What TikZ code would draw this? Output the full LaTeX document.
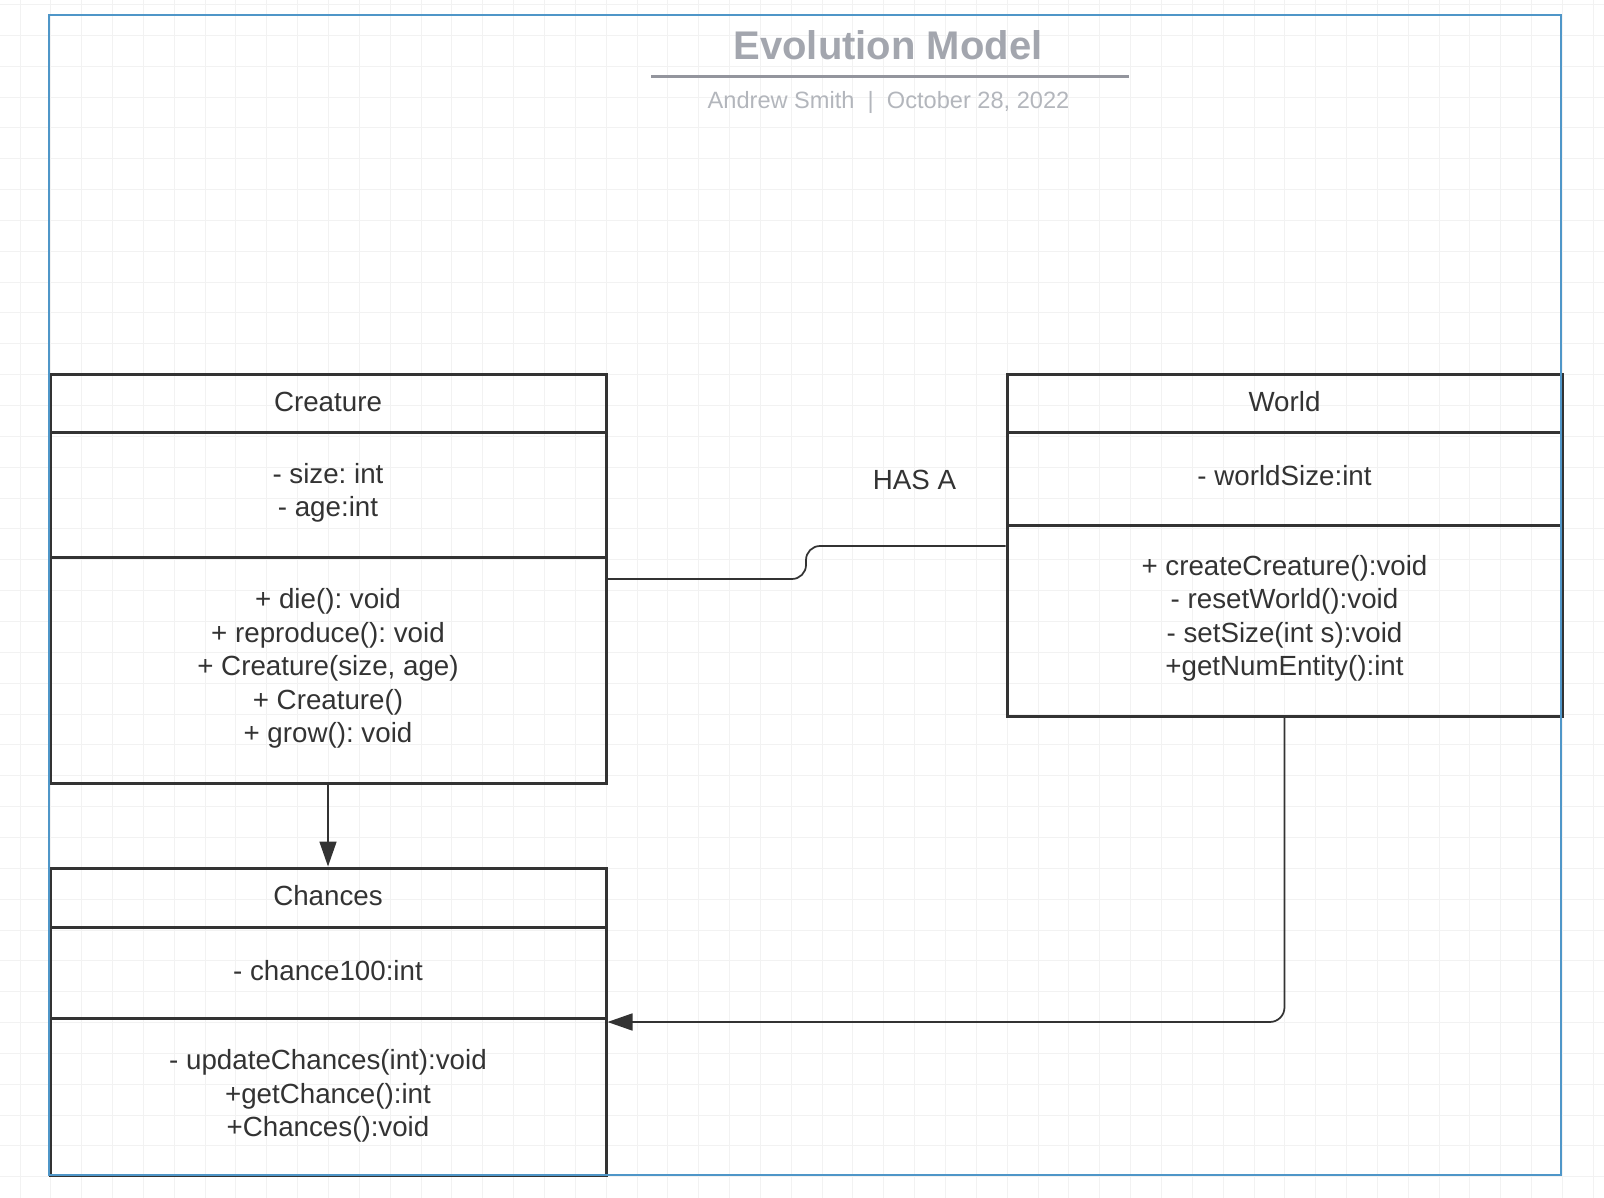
\documentclass[tikz,border=0pt]{standalone}
\usepackage{fontspec}
\setmainfont{Liberation Sans}
\usetikzlibrary{arrows.meta}
\definecolor{ink}{HTML}{333333}
\definecolor{frameblue}{HTML}{4F96C8}
\definecolor{titlegray}{HTML}{A3A6AE}
\definecolor{subgray}{HTML}{B3B6BC}
\definecolor{gridc}{HTML}{F2F2F2}
\frenchspacing
\begin{document}
\begin{tikzpicture}[x=0.75pt,y=-0.75pt,
  comp/.style={draw=ink, line width=2.25pt, inner sep=0pt, text=ink,
    font=\fontsize{20.8}{25.1}\selectfont},
  txt/.style={inner sep=0pt, align=center, text=ink, font=\fontsize{20.8}{25.1}\selectfont},
  cw/.style={minimum width=0.75*556pt},
  ww/.style={minimum width=0.75*555pt},
  conn/.style={draw=ink, line width=1.3pt},
  arr/.style={conn, -{Triangle[length=18.75pt,width=12.75pt]}},
  gridline/.style={draw=gridc, line width=0.75pt}]
\useasboundingbox (0,0) rectangle (1604,1198);
% background grid
\foreach \i in {0,...,52} \draw[gridline] ({20+30.85*\i},0) -- ({20+30.85*\i},1198);
\foreach \j in {0,...,38} \draw[gridline] (0,{4.5+30.85*\j}) -- (1604,{4.5+30.85*\j});
% title
\node[text=titlegray, font=\fontsize{30}{36}\selectfont\bfseries] (title) at (888,45) {Evolution Model};
\draw[draw=titlegray!90!black, line width=2.2pt] (651,76.5) -- (1129,76.5);
\node[text=subgray, font=\fontsize{17.7}{21}\selectfont] (sub) at (888.5,102) {Andrew Smith~~|~~October 28, 2022};
% Creature
\node[comp, cw, minimum height=0.75*58pt] (cH) at (328,404) {};
\node[comp, cw, minimum height=0.75*124pt] (cA) at (328,495) {};
\node[comp, cw, minimum height=0.75*226pt] (cM) at (328,670) {};
\node[txt] (cHt) at ([yshift=1.5pt]cH.center) {Creature};
\node[txt] (cAt) at ([yshift=1.5pt]cA.center) {- size: int\\- age:int};
\node[txt] (cMt) at ([yshift=1.2pt]cM.center) {+ die(): void\\+ reproduce(): void\\+ Creature(size, age)\\+ Creature()\\+ grow(): void};
% Chances
\node[comp, cw, minimum height=0.75*59pt] (chH) at (328,897.5) {};
\node[comp, cw, minimum height=0.75*91pt] (chA) at (328,972.5) {};
\node[comp, cw, minimum height=0.75*157pt] (chM) at (328,1096.5) {};
\node[txt] (chHt) at ([yshift=1.5pt]chH.center) {Chances};
\node[txt] (chAt) at ([yshift=1.5pt]chA.center) {- chance100:int};
\node[txt] (chMt) at ([yshift=0.5pt]chM.center) {- updateChances(int):void\\+getChance():int\\+Chances():void};
% World
\node[comp, ww, minimum height=0.75*58pt] (wH) at (1284.5,404) {};
\node[comp, ww, minimum height=0.75*92pt] (wA) at (1284.5,479) {};
\node[comp, ww, minimum height=0.75*191pt] (wM) at (1284.5,620.5) {};
\node[txt] (wHt) at ([yshift=1.5pt]wH.center) {World};
\node[txt] (wAt) at ([yshift=2.2pt]wA.center) {- worldSize:int};
\node[txt] (wMt) at ([yshift=1.5pt]wM.center) {+ createCreature():void\\- resetWorld():void\\- setSize(int s):void\\+getNumEntity():int};
% connectors
\coordinate (j1) at (806,579);
\coordinate (j2) at (806,546);
\draw[conn, rounded corners=10.5pt] (j1 -| cM.east) -- (j1) -- (j2) -- (j2 -| wM.west);
\node[text=ink, font=\fontsize{20.8}{25}\selectfont] (hasa) at (914.5,480) {HAS A};
\draw[arr] (cM.south) -- (chH.north);
\coordinate (k) at (1284.5,1022);
\draw[arr, rounded corners=11pt] (wM.south) -- (k) -- (k -| chM.east);
% frame
\draw[draw=frameblue, line width=1.6pt] (49,15) rectangle (1561,1175);
\end{tikzpicture}
\end{document}
